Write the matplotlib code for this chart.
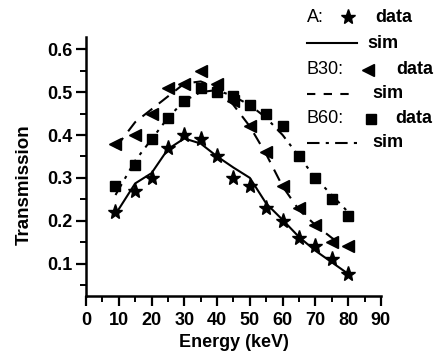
import matplotlib
matplotlib.use("Agg")
import matplotlib.pyplot as plt
from matplotlib.lines import Line2D

plt.rcParams['font.family'] = ['Liberation Sans', 'DejaVu Sans']

energy = [9, 15, 20, 25, 30, 35, 40, 45, 50, 55, 60, 65, 70, 75, 80]

a_data = [0.22, 0.27, 0.30, 0.37, 0.40, 0.39, 0.35, 0.30, 0.28, 0.23, 0.20, 0.16, 0.14, 0.11, 0.075]
a_sim = [0.215, 0.287, 0.311, 0.367, 0.392, 0.38, 0.35, 0.324, 0.30, 0.24, 0.202, 0.162, 0.13, 0.103, 0.076]

b30_data = [0.38, 0.40, 0.45, 0.51, 0.52, 0.55, 0.52, 0.48, 0.42, 0.36, 0.28, 0.23, 0.19, 0.15, 0.14]
b30_sim_x = [9, 15, 20, 25, 30, 35, 40, 45, 50, 55, 60, 65, 70, 75, 77]
b30_sim = [0.37, 0.43, 0.46, 0.49, 0.52, 0.525, 0.51, 0.47, 0.42, 0.355, 0.28, 0.225, 0.19, 0.16, 0.15]

b60_data = [0.28, 0.33, 0.39, 0.44, 0.48, 0.51, 0.50, 0.49, 0.47, 0.45, 0.42, 0.35, 0.30, 0.25, 0.21]
b60_sim = [0.26, 0.34, 0.39, 0.44, 0.48, 0.50, 0.505, 0.49, 0.47, 0.44, 0.40, 0.35, 0.30, 0.26, 0.22]

x_ticks = [0, 10, 20, 30, 40, 50, 60, 70, 80, 90]
y_ticks = [0.1, 0.2, 0.3, 0.4, 0.5, 0.6]

fig = plt.figure(figsize=(4.35, 3.6), dpi=100)
ax = fig.add_axes([0.1977, 0.1786, 0.678, 0.7178])

ax.plot(energy, a_sim, '-', color='black', lw=1.5)
ax.plot(b30_sim_x, b30_sim, '--', color='black', lw=1.5, dashes=(6, 4))
ax.plot(energy, b60_sim, '-.', color='black', lw=1.5, dashes=(6, 3, 1.5, 3))
ax.plot(energy, a_data, '*', color='black', ms=11, mec='black')
ax.plot(energy, b30_data, '<', color='black', ms=9)
ax.plot(energy, b60_data, 's', color='black', ms=7.5)

ax.set_xlim(0, 90)
ax.set_ylim(0.025, 0.628)
ax.set_xticks(x_ticks)
ax.set_yticks(y_ticks)
ax.set_xticklabels([str(v) for v in x_ticks])
ax.set_yticklabels([f"{v:.1f}" for v in y_ticks])
ax.set_xticks([5 + 10 * i for i in range(9)], minor=True)
ax.set_yticks([0.05, 0.15, 0.25, 0.35, 0.45, 0.55], minor=True)

for s in ['top', 'right']:
    ax.spines[s].set_visible(False)
for s in ['left', 'bottom']:
    ax.spines[s].set_linewidth(1.8)
ax.tick_params(which='major', direction='out', length=7, width=1.6, labelsize=13)
ax.tick_params(axis='x', which='major', pad=4.5)
ax.tick_params(axis='y', which='major', pad=2.5)
ax.tick_params(which='minor', direction='out', length=4, width=1.4)
for lab in ax.get_xticklabels() + ax.get_yticklabels():
    lab.set_fontweight('bold')

ax.set_xlabel('Energy (keV)', fontsize=13, fontweight='bold', labelpad=4)
ax.set_ylabel('Transmission', fontsize=13.5, fontweight='bold')
ax.yaxis.set_label_coords(-0.18, 0.43)

# legend (manual, outside axes)
W, H = 435.0, 360.0
def fx(px): return px / W
def fy(py): return 1 - py / H

fs = 13
fig.text(fx(307), fy(17), 'A:', fontsize=fs, va='center', ha='left')
fig.add_artist(Line2D([fx(348)], [fy(17)], marker='*', color='black', ms=11, transform=fig.transFigure))
fig.text(fx(375), fy(17), 'data', fontsize=fs, fontweight='bold', va='center', ha='left')

fig.add_artist(Line2D([fx(307), fx(357)], [fy(43), fy(43)], color='black', lw=1.5, transform=fig.transFigure))
fig.text(fx(367), fy(43), 'sim', fontsize=fs, fontweight='bold', va='center', ha='left')

fig.text(fx(307), fy(70), 'B30:', fontsize=fs, va='center', ha='left')
fig.add_artist(Line2D([fx(368)], [fy(70)], marker='<', color='black', ms=9, transform=fig.transFigure))
fig.text(fx(396), fy(70), 'data', fontsize=fs, fontweight='bold', va='center', ha='left')

fig.add_artist(Line2D([fx(307), fx(357)], [fy(94), fy(94)], color='black', lw=1.5, dashes=(4, 4), transform=fig.transFigure))
fig.text(fx(372), fy(94), 'sim', fontsize=fs, fontweight='bold', va='center', ha='left')

fig.text(fx(307), fy(119), 'B60:', fontsize=fs, va='center', ha='left')
fig.add_artist(Line2D([fx(371)], [fy(119)], marker='s', color='black', ms=7.5, transform=fig.transFigure))
fig.text(fx(395), fy(119), 'data', fontsize=fs, fontweight='bold', va='center', ha='left')

fig.add_artist(Line2D([fx(307), fx(357)], [fy(143), fy(143)], color='black', lw=1.5, dashes=(6, 3, 1.5, 3), transform=fig.transFigure))
fig.text(fx(372), fy(143), 'sim', fontsize=fs, fontweight='bold', va='center', ha='left')

fig.savefig('out.png', dpi=100)
